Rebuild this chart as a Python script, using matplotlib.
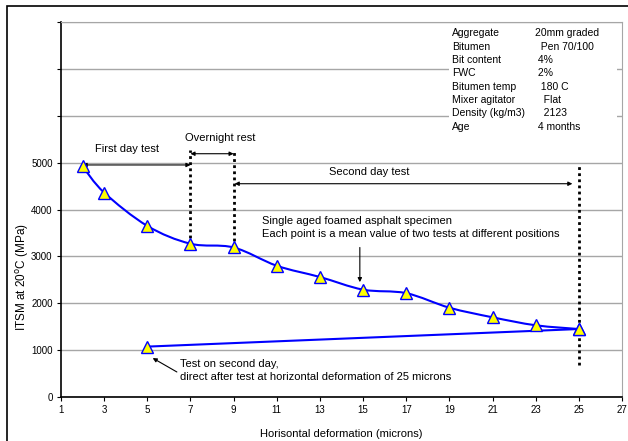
import numpy as np
import matplotlib.pyplot as plt
from matplotlib.path import Path
from matplotlib.patches import PathPatch, Rectangle

plt.rcParams['font.family'] = ['Liberation Sans', 'DejaVu Sans']

# first series (smoothed curve), microns vs MPa
defo = [2, 3, 5, 7, 9, 11, 13, 15, 17, 19, 21, 23, 25]
itsm = [4920, 4360, 3650, 3270, 3190, 2800, 2560, 2290, 2215, 1905, 1700, 1530, 1450]
# second day retest line
defo2 = [5, 25]
itsm2 = [1075, 1450]

x_ticks = list(range(1, 28, 2))
y_ticks = list(range(0, 8001, 1000))
y_labels = ['0', '1000', '2000', '3000', '4000', '5000', '', '', '']

info_keys = ["Aggregate", "Bitumen", "Bit content", "FWC", "Bitumen temp",
             "Mixer agitator", "Density (kg/m3)", "Age"]
info_vals = ["20mm graded", "  Pen 70/100", " 4%", " 2%", "  180 C",
             "   Flat", "   2123", " 4 months"]


def smooth_path(xs, ys):
    # catmull-rom -> bezier, like excel's smoothed line
    pts = np.column_stack([xs, ys]).astype(float)
    verts = [pts[0]]
    codes = [Path.MOVETO]
    n = len(pts)
    for i in range(n - 1):
        p0 = pts[i - 1] if i > 0 else pts[i]
        p1 = pts[i]
        p2 = pts[i + 1]
        p3 = pts[i + 2] if i + 2 < n else pts[i + 1]
        c1 = p1 + (p2 - p0) / 6.0
        c2 = p2 - (p3 - p1) / 6.0
        verts += [c1, c2, p2]
        codes += [Path.CURVE4] * 3
    return Path(verts, codes)


fig = plt.figure(figsize=(6.28, 4.41), dpi=100)
ax = fig.add_axes([61 / 628, 44 / 441, 561 / 628, 375 / 441])

ax.set_xlim(1, 27)
ax.set_ylim(0, 8000)
ax.set_xticks(x_ticks)
ax.set_yticks(y_ticks)
ax.set_yticklabels(y_labels)
ax.tick_params(labelsize=7, length=3, width=0.8, colors='black', pad=3)
ax.yaxis.grid(True, color='#a6a6a6', lw=1)
ax.set_axisbelow(True)
for s in ['top', 'right']:
    ax.spines[s].set_color('#a6a6a6')
for s in ['left', 'bottom']:
    ax.spines[s].set_color('black')
    ax.spines[s].set_linewidth(1.2)

ax.add_patch(PathPatch(smooth_path(defo, itsm), fill=False, ec='#0000ff', lw=1.5, zorder=3))
ax.plot(defo2, itsm2, color='#0000ff', lw=1.5, zorder=3)
ax.plot(defo, itsm, ls='none', marker='^', ms=8, mfc='#ffff00', mec='#0000ff', mew=1, zorder=4, clip_on=False)
ax.plot(defo2, itsm2, ls='none', marker='^', ms=8, mfc='#ffff00', mec='#0000ff', mew=1, zorder=4)

# dotted vertical markers
dot = dict(color='black', ls=(0, (1, 1.2)), lw=2, zorder=2)
ax.plot([7, 7], [3270, 5270], **dot)
ax.plot([9, 9], [3190, 5270], **dot)
ax.plot([25, 25], [690, 4930], **dot)

arr = dict(arrowstyle='<|-|>', color='black', lw=0.8, mutation_scale=6, shrinkA=0, shrinkB=0)
ax.annotate('', xy=(7, 4950), xytext=(2, 4950), arrowprops=arr)
ax.text(4.06, 5290, 'First day test', fontsize=8, ha='center', va='center')
ax.annotate('', xy=(9, 5190), xytext=(7, 5190), arrowprops=arr)
ax.text(8.37, 5530, 'Overnight rest', fontsize=8, ha='center', va='center')
ax.annotate('', xy=(24.7, 4550), xytext=(9.05, 4550), arrowprops=arr)
ax.text(15.3, 4810, 'Second day test', fontsize=8, ha='center', va='center')

ax.text(10.31, 3370, 'Single aged foamed asphalt specimen\nEach point is a mean value of two tests at different positions',
        fontsize=8, ha='left', va='bottom', linespacing=1.35)
ax.annotate('', xy=(14.85, 2450), xytext=(14.85, 3190),
            arrowprops=dict(arrowstyle='-|>', color='black', lw=0.8, mutation_scale=6, shrinkA=0, shrinkB=0))

ax.text(6.5, 820, 'Test on second day,\ndirect after test at horizontal deformation of 25 microns',
        fontsize=8, ha='left', va='top', linespacing=1.4)
ax.annotate('', xy=(5.25, 830), xytext=(6.37, 534),
            arrowprops=dict(arrowstyle='-|>', color='black', lw=0.8, mutation_scale=6, shrinkA=0, shrinkB=0))

# info box (white background hides gridlines)
ax.add_patch(Rectangle((19.0, 5600), 7.76, 2300, fc='white', ec='none', zorder=1.5))
for i, (k, v) in enumerate(zip(info_keys, info_vals)):
    yy = 7756 - i * 284
    ax.text(19.12, yy, k, fontsize=7.5, ha='left', va='center', zorder=3)
    ax.text(22.96, yy, v, fontsize=7.5, ha='left', va='center', zorder=3)

ax.set_xlabel('Horisontal deformation (microns)', fontsize=8, labelpad=10)
ax.set_ylabel('ITSM at 20$^{\\mathrm{o}}$C (MPa)', fontsize=8.5)
ax.yaxis.set_label_coords(-0.054, 0.32)

# outer chart border
fig.patches.append(Rectangle((7 / 628, -0.02), 1.0, 1 - 6 / 441 + 0.02,
                             transform=fig.transFigure, fill=False, ec='black', lw=1.2))

fig.savefig('out.png', dpi=100)
